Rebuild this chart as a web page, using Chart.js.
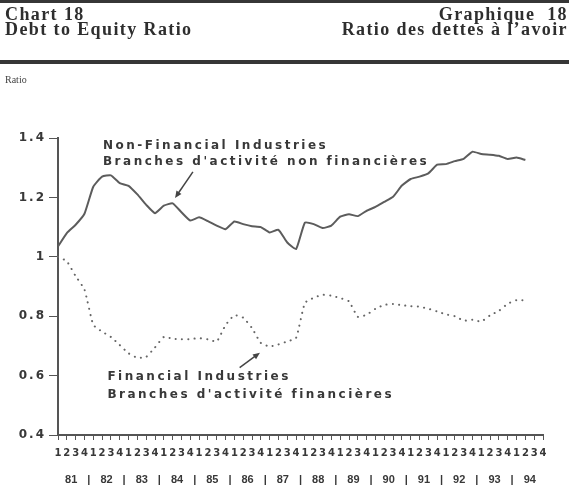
<!DOCTYPE html>
<html>
<head>
<meta charset="utf-8">
<script src="https://cdn.jsdelivr.net/npm/chart.js@4.4.1/dist/chart.umd.min.js"></script>
<style>
    html, body { margin: 0; padding: 0; background: #fff; }
    #page { position: relative; width: 569px; height: 489px; overflow: hidden; background: #fff; }
    #page canvas { position: absolute; left: 0; top: 0; }
    .rule { position: absolute; left: 0; width: 569px; background: #363636; }
    .title { position: absolute; top: 7px; font: bold 18px "Liberation Serif", "Times New Roman", serif; line-height: 15px; color: #2e2e2e; letter-spacing: 1.4px; white-space: pre; }
    .left { left: 5px; }
    .right { right: 1px; text-align: right; }
    .unit { position: absolute; left: 5px; top: 74px; font: 10px "Liberation Serif", serif; color: #444; }
</style>
</head>
<body>
<div id="page">
    <canvas id="ratioChart" width="569" height="489"></canvas>
    <div class="rule" style="top:0;height:3px"></div>
    <div class="title left">Chart 18
Debt to Equity Ratio</div>
    <div class="title right">Graphique  18
Ratio des dettes à l’avoir</div>
    <div class="rule" style="top:60px;height:4px"></div>
    <div class="unit">Ratio</div>
</div>
<script>
(function() {
    "use strict";

    // 1981Q1 .. 1994Q2
    var years = ["81", "82", "83", "84", "85", "86", "87", "88", "89", "90", "91", "92", "93", "94"];
    var quarterNames = ["1", "2", "3", "4"];

    var nonFinancial = [
        1.035, 1.08, 1.108, 1.145, 1.236, 1.27, 1.274, 1.248,
        1.239, 1.21, 1.175, 1.147, 1.172, 1.18, 1.15, 1.122,
        1.133, 1.12, 1.105, 1.093, 1.119, 1.11, 1.103, 1.1,
        1.082, 1.091, 1.048, 1.026, 1.115, 1.11, 1.097, 1.105,
        1.135, 1.143, 1.137, 1.155, 1.168, 1.185, 1.202, 1.24,
        1.262, 1.27, 1.281, 1.31, 1.312, 1.322, 1.33, 1.354,
        1.346, 1.344, 1.34, 1.329, 1.334, 1.326
    ];

    var financial = [
        1.0, 0.985, 0.935, 0.89, 0.771, 0.748, 0.73, 0.703,
        0.675, 0.66, 0.663, 0.695, 0.73, 0.724, 0.722, 0.723,
        0.726, 0.722, 0.715, 0.77, 0.803, 0.795, 0.76, 0.71,
        0.698, 0.705, 0.715, 0.727, 0.845, 0.862, 0.872, 0.869,
        0.861, 0.85, 0.798, 0.805, 0.825, 0.838, 0.841, 0.837,
        0.834, 0.832, 0.825, 0.816, 0.806, 0.8, 0.785, 0.788,
        0.782, 0.803, 0.818, 0.842, 0.854, 0.853
    ];

    var yMin = 0.4;
    var yMax = 1.4;
    var yStep = 0.2;

    var notes = [
        { x: 5.1, y: [1.374, 1.32], lines: ["Non-Financial Industries", "Branches d'activité non financières"] },
        { x: 5.6, y: [0.596, 0.536], lines: ["Financial Industries", "Branches d'activité financières"] }
    ];

    var arrows = [
        { from: [15.3, 1.286], to: [13.27, 1.198] },
        { from: [20.6, 0.627], to: [22.9, 0.677] }
    ];

    var ink = "#383838";
    var lineGray = "#5c5c5c";

    var quarterLabels = [];
    years.forEach(function() {
        quarterNames.forEach(function(q) {
            quarterLabels.push(q);
        });
    });

    var notesPlugin = {
        id: "notes",
        beforeDraw: function(chart) {
            // wide look of the y tick labels
            chart.ctx.letterSpacing = "2px";
        },
        afterDatasetsDraw: function(chart) {
            var ctx = chart.ctx;
            var x = chart.scales.x;
            var y = chart.scales.y;

            ctx.save();
            ctx.letterSpacing = "2.5px";
            ctx.fillStyle = ink;
            ctx.font = "bold 12px 'DejaVu Sans'";
            ctx.textBaseline = "middle";
            ctx.textAlign = "left";
            notes.forEach(function(n) {
                n.lines.forEach(function(t, k) {
                    ctx.fillText(t, x.getPixelForValue(n.x), y.getPixelForValue(n.y[k]));
                });
            });

            ctx.strokeStyle = "#444";
            ctx.fillStyle = "#444";
            ctx.lineWidth = 1.5;
            arrows.forEach(function(a) {
                var x1 = x.getPixelForValue(a.from[0]);
                var y1 = y.getPixelForValue(a.from[1]);
                var x2 = x.getPixelForValue(a.to[0]);
                var y2 = y.getPixelForValue(a.to[1]);
                var ang = Math.atan2(y2 - y1, x2 - x1);
                var hl = 7;
                var hw = 3;
                ctx.beginPath();
                ctx.moveTo(x1, y1);
                ctx.lineTo(x2 - Math.cos(ang) * hl * 0.6, y2 - Math.sin(ang) * hl * 0.6);
                ctx.stroke();
                ctx.beginPath();
                ctx.moveTo(x2, y2);
                ctx.lineTo(x2 - Math.cos(ang) * hl - Math.sin(ang) * hw, y2 - Math.sin(ang) * hl + Math.cos(ang) * hw);
                ctx.lineTo(x2 - Math.cos(ang) * hl + Math.sin(ang) * hw, y2 - Math.sin(ang) * hl - Math.cos(ang) * hw);
                ctx.closePath();
                ctx.fill();
            });
            ctx.restore();

            // x tick labels (z 1) are drawn after this with normal spacing
            ctx.letterSpacing = "0px";
        },
        afterDraw: function(chart) {
            chart.ctx.letterSpacing = "0px";
        }
    };

    new Chart(document.getElementById("ratioChart").getContext("2d"), {
        type: "line",
        data: {
            labels: quarterLabels,
            datasets: [{
                    label: "Non-Financial Industries",
                    data: nonFinancial,
                    borderColor: lineGray,
                    borderWidth: 2,
                    pointRadius: 0,
                    fill: false,
                    tension: 0.15
                },
                {
                    label: "Financial Industries",
                    data: financial,
                    borderColor: "#666",
                    borderWidth: 2,
                    borderDash: [0.1, 6.2],
                    borderCapStyle: "round",
                    pointRadius: 0,
                    fill: false,
                    tension: 0.15
                }
            ]
        },
        options: {
            responsive: false,
            animation: false,
            layout: {
                padding: { top: 138, right: 26, bottom: 0, left: 0 }
            },
            plugins: {
                legend: { display: false },
                tooltip: { enabled: false }
            },
            scales: {
                x: {
                    type: "category",
                    offset: false,
                    weight: 1,
                    afterFit: function(scale) { scale.height = 26; },
                    grid: {
                        drawOnChartArea: false,
                        offset: false,
                        tickLength: 5,
                        color: "#555"
                    },
                    border: { display: true, color: "#555", width: 2 },
                    ticks: {
                        z: 1,
                        autoSkip: false,
                        maxRotation: 0,
                        minRotation: 0,
                        padding: 7,
                        color: ink,
                        font: { family: "DejaVu Sans", size: 10, weight: "bold" }
                    }
                },
                x2: {
                    type: "linear",
                    position: "bottom",
                    min: 0,
                    max: quarterLabels.length - 1,
                    weight: 2,
                    afterFit: function(scale) { scale.height = 28; },
                    afterBuildTicks: function(scale) {
                        var t = [];
                        years.forEach(function(yr, j) {
                            if (j > 0) {
                                t.push({ value: 4 * j - 0.5 });
                            }
                            t.push({ value: 4 * j + 1.5 });
                        });
                        scale.ticks = t;
                    },
                    grid: { display: false, drawTicks: false },
                    border: { display: false },
                    ticks: {
                        z: 1,
                        autoSkip: false,
                        maxRotation: 0,
                        minRotation: 0,
                        padding: 12,
                        color: ink,
                        font: { family: "Liberation Sans", size: 11, weight: "bold" },
                        callback: function(value) {
                            var r = ((value % 4) + 4) % 4;
                            if (r === 1.5) {
                                return years[Math.round((value - 1.5) / 4)];
                            }
                            return "|";
                        }
                    }
                },
                y: {
                    min: yMin,
                    max: yMax,
                    afterFit: function(scale) { scale.width = 58; },
                    grid: {
                        drawOnChartArea: false,
                        tickLength: 9,
                        color: "#555"
                    },
                    border: { display: true, color: "#555", width: 2 },
                    ticks: {
                        stepSize: yStep,
                        padding: 3,
                        color: ink,
                        font: { family: "DejaVu Sans", size: 12, weight: "bold" },
                        callback: function(value) {
                            return String(Math.round(value * 10) / 10);
                        }
                    }
                }
            }
        },
        plugins: [notesPlugin]
    });
})();
</script>
</body>
</html>
